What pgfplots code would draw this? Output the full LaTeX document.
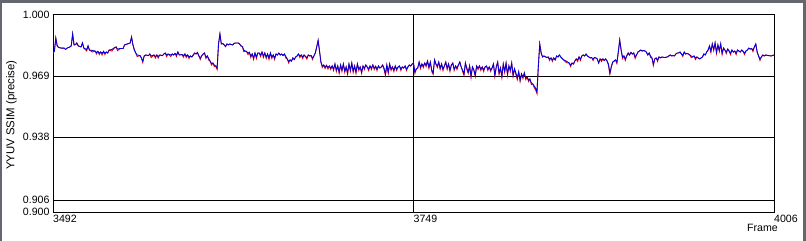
\documentclass[border=0pt]{standalone}
\usepackage{fontspec}
\setmainfont{Liberation Sans}
\usepackage{pgfplots}
\usepackage{pgfplotstable}
\pgfplotsset{compat=1.18}
\definecolor{sblue}{RGB}{0,0,230}
\definecolor{sred}{RGB}{220,0,0}
\definecolor{wgray}{RGB}{100,104,110}
\pgfplotstableread{
f b r
3492 0.9807 0.9807
3493 0.9817 0.9817
3494 0.9883 0.9883
3495 0.9843 0.9843
3496 0.9835 0.9835
3498 0.9832 0.9832
3500 0.9832 0.9832
3501 0.9825 0.9825
3502 0.9832 0.9832
3504 0.9838 0.9838
3505 0.9843 0.9843
3506 0.9904 0.9904
3507 0.9848 0.9848
3508 0.9850 0.9850
3509 0.9858 0.9858
3510 0.9843 0.9843
3512 0.9838 0.9838
3513 0.9858 0.9858
3514 0.9832 0.9832
3516 0.9825 0.9817
3517 0.9843 0.9843
3518 0.9822 0.9822
3520 0.9820 0.9812
3522 0.9817 0.9817
3523 0.9810 0.9802
3524 0.9815 0.9815
3525 0.9807 0.9799
3526 0.9812 0.9812
3527 0.9805 0.9797
3528 0.9815 0.9815
3529 0.9807 0.9799
3530 0.9812 0.9812
3531 0.9807 0.9807
3532 0.9822 0.9822
3534 0.9825 0.9817
3536 0.9835 0.9835
3537 0.9838 0.9838
3538 0.9827 0.9819
3540 0.9830 0.9830
3542 0.9830 0.9830
3543 0.9848 0.9848
3545 0.9853 0.9853
3547 0.9858 0.9858
3548 0.9888 0.9888
3549 0.9848 0.9848
3550 0.9822 0.9822
3551 0.9807 0.9807
3552 0.9797 0.9789
3554 0.9794 0.9794
3555 0.9782 0.9782
3556 0.9766 0.9758
3557 0.9792 0.9792
3558 0.9797 0.9797
3560 0.9794 0.9794
3561 0.9802 0.9802
3562 0.9792 0.9784
3564 0.9797 0.9797
3565 0.9789 0.9781
3566 0.9797 0.9797
3567 0.9789 0.9781
3568 0.9797 0.9797
3570 0.9794 0.9794
3571 0.9802 0.9802
3572 0.9807 0.9807
3573 0.9797 0.9789
3574 0.9802 0.9802
3576 0.9797 0.9789
3577 0.9802 0.9802
3578 0.9797 0.9797
3579 0.9805 0.9805
3580 0.9797 0.9789
3581 0.9812 0.9812
3582 0.9797 0.9797
3584 0.9799 0.9799
3585 0.9794 0.9786
3586 0.9802 0.9802
3587 0.9792 0.9784
3588 0.9797 0.9797
3589 0.9787 0.9779
3590 0.9792 0.9792
3591 0.9787 0.9787
3592 0.9797 0.9797
3593 0.9807 0.9807
3594 0.9802 0.9802
3595 0.9810 0.9810
3596 0.9792 0.9792
3597 0.9782 0.9774
3598 0.9792 0.9792
3599 0.9802 0.9802
3600 0.9807 0.9807
3601 0.9787 0.9779
3602 0.9792 0.9792
3603 0.9779 0.9771
3604 0.9766 0.9766
3605 0.9754 0.9746
3606 0.9756 0.9756
3607 0.9746 0.9738
3608 0.9741 0.9741
3609 0.9731 0.9723
3610 0.9853 0.9853
3611 0.9904 0.9904
3612 0.9853 0.9853
3613 0.9855 0.9855
3614 0.9848 0.9848
3615 0.9840 0.9840
3616 0.9853 0.9853
3617 0.9848 0.9848
3618 0.9853 0.9853
3620 0.9848 0.9848
3621 0.9855 0.9855
3622 0.9858 0.9858
3624 0.9858 0.9858
3625 0.9853 0.9853
3626 0.9843 0.9843
3627 0.9840 0.9840
3628 0.9822 0.9814
3629 0.9817 0.9817
3630 0.9815 0.9815
3631 0.9807 0.9799
3632 0.9810 0.9810
3633 0.9792 0.9784
3634 0.9802 0.9802
3635 0.9782 0.9774
3636 0.9807 0.9807
3637 0.9787 0.9779
3638 0.9807 0.9807
3639 0.9807 0.9807
3640 0.9797 0.9789
3641 0.9812 0.9812
3642 0.9792 0.9784
3643 0.9807 0.9807
3644 0.9787 0.9779
3645 0.9802 0.9802
3646 0.9782 0.9774
3647 0.9807 0.9807
3648 0.9787 0.9779
3649 0.9797 0.9797
3650 0.9782 0.9774
3651 0.9802 0.9802
3652 0.9797 0.9797
3653 0.9807 0.9807
3654 0.9797 0.9797
3655 0.9802 0.9802
3656 0.9794 0.9794
3657 0.9802 0.9802
3658 0.9789 0.9781
3659 0.9777 0.9777
3660 0.9764 0.9756
3661 0.9772 0.9772
3662 0.9766 0.9766
3663 0.9782 0.9782
3664 0.9774 0.9774
3665 0.9787 0.9787
3666 0.9792 0.9792
3667 0.9802 0.9802
3668 0.9792 0.9784
3669 0.9797 0.9797
3670 0.9787 0.9779
3671 0.9797 0.9797
3672 0.9789 0.9789
3673 0.9784 0.9776
3674 0.9797 0.9797
3675 0.9792 0.9792
3676 0.9794 0.9794
3677 0.9782 0.9774
3678 0.9792 0.9792
3679 0.9807 0.9807
3680 0.9838 0.9838
3681 0.9871 0.9871
3682 0.9817 0.9817
3683 0.9761 0.9761
3684 0.9741 0.9733
3685 0.9746 0.9746
3686 0.9736 0.9728
3687 0.9744 0.9744
3688 0.9734 0.9726
3689 0.9741 0.9741
3690 0.9731 0.9723
3691 0.9741 0.9741
3692 0.9726 0.9718
3693 0.9751 0.9751
3694 0.9721 0.9713
3695 0.9741 0.9741
3696 0.9711 0.9703
3697 0.9746 0.9746
3698 0.9721 0.9713
3699 0.9751 0.9751
3700 0.9716 0.9708
3701 0.9736 0.9736
3702 0.9706 0.9698
3703 0.9751 0.9751
3704 0.9721 0.9713
3705 0.9756 0.9756
3706 0.9716 0.9708
3707 0.9741 0.9741
3708 0.9711 0.9703
3709 0.9751 0.9751
3710 0.9726 0.9718
3711 0.9736 0.9736
3712 0.9711 0.9703
3713 0.9741 0.9741
3714 0.9731 0.9723
3715 0.9746 0.9746
3716 0.9736 0.9736
3717 0.9726 0.9718
3718 0.9741 0.9741
3719 0.9731 0.9723
3720 0.9746 0.9746
3721 0.9731 0.9723
3722 0.9739 0.9739
3723 0.9726 0.9718
3724 0.9741 0.9741
3725 0.9731 0.9731
3726 0.9736 0.9736
3727 0.9746 0.9746
3728 0.9731 0.9723
3729 0.9701 0.9693
3730 0.9746 0.9746
3731 0.9711 0.9703
3732 0.9751 0.9751
3733 0.9726 0.9718
3734 0.9736 0.9736
3735 0.9721 0.9713
3736 0.9741 0.9741
3737 0.9726 0.9718
3738 0.9736 0.9736
3739 0.9741 0.9741
3740 0.9726 0.9718
3741 0.9736 0.9736
3742 0.9731 0.9731
3743 0.9741 0.9741
3744 0.9726 0.9718
3745 0.9736 0.9736
3746 0.9746 0.9746
3747 0.9741 0.9741
3748 0.9751 0.9751
3749 0.9756 0.9756
3750 0.9711 0.9703
3751 0.9726 0.9726
3752 0.9731 0.9731
3753 0.9761 0.9761
3754 0.9736 0.9728
3755 0.9751 0.9751
3756 0.9741 0.9733
3757 0.9756 0.9756
3758 0.9746 0.9738
3759 0.9766 0.9766
3760 0.9736 0.9728
3761 0.9761 0.9761
3762 0.9721 0.9713
3763 0.9706 0.9698
3764 0.9772 0.9772
3765 0.9751 0.9751
3766 0.9741 0.9733
3767 0.9761 0.9761
3768 0.9731 0.9723
3769 0.9751 0.9751
3770 0.9726 0.9718
3771 0.9741 0.9741
3772 0.9761 0.9761
3773 0.9731 0.9723
3774 0.9751 0.9751
3775 0.9721 0.9713
3776 0.9746 0.9746
3777 0.9756 0.9756
3778 0.9726 0.9718
3779 0.9741 0.9741
3780 0.9731 0.9723
3781 0.9746 0.9746
3782 0.9761 0.9761
3783 0.9736 0.9736
3784 0.9721 0.9713
3785 0.9701 0.9693
3786 0.9756 0.9756
3787 0.9731 0.9723
3788 0.9711 0.9703
3789 0.9741 0.9741
3790 0.9690 0.9682
3791 0.9736 0.9736
3792 0.9721 0.9721
3793 0.9695 0.9687
3794 0.9741 0.9741
3795 0.9731 0.9723
3796 0.9741 0.9741
3797 0.9726 0.9718
3798 0.9736 0.9736
3799 0.9721 0.9713
3800 0.9736 0.9736
3801 0.9741 0.9741
3802 0.9726 0.9718
3803 0.9736 0.9736
3804 0.9721 0.9713
3805 0.9731 0.9731
3806 0.9751 0.9751
3807 0.9695 0.9687
3808 0.9736 0.9736
3809 0.9761 0.9761
3810 0.9706 0.9698
3811 0.9731 0.9731
3812 0.9690 0.9682
3813 0.9751 0.9751
3814 0.9716 0.9708
3815 0.9756 0.9756
3816 0.9701 0.9693
3817 0.9741 0.9741
3818 0.9721 0.9713
3819 0.9756 0.9756
3820 0.9695 0.9687
3821 0.9726 0.9726
3822 0.9706 0.9698
3823 0.9680 0.9672
3824 0.9711 0.9711
3825 0.9670 0.9662
3826 0.9701 0.9701
3827 0.9685 0.9677
3828 0.9706 0.9706
3829 0.9680 0.9672
3830 0.9685 0.9685
3831 0.9670 0.9662
3832 0.9675 0.9675
3833 0.9655 0.9647
3834 0.9650 0.9650
3835 0.9640 0.9632
3836 0.9629 0.9621
3837 0.9609 0.9601
3838 0.9741 0.9741
3839 0.9853 0.9853
3840 0.9807 0.9807
3841 0.9787 0.9787
3842 0.9792 0.9792
3844 0.9784 0.9784
3845 0.9787 0.9787
3846 0.9777 0.9769
3847 0.9782 0.9782
3848 0.9772 0.9764
3849 0.9782 0.9782
3850 0.9772 0.9772
3851 0.9792 0.9792
3852 0.9787 0.9787
3853 0.9797 0.9797
3854 0.9787 0.9787
3856 0.9772 0.9772
3858 0.9766 0.9758
3860 0.9756 0.9756
3861 0.9746 0.9738
3862 0.9756 0.9756
3863 0.9751 0.9751
3864 0.9766 0.9766
3865 0.9777 0.9777
3866 0.9772 0.9764
3867 0.9787 0.9787
3868 0.9777 0.9769
3869 0.9792 0.9792
3870 0.9797 0.9797
3871 0.9792 0.9792
3872 0.9802 0.9802
3873 0.9792 0.9792
3874 0.9787 0.9787
3875 0.9782 0.9782
3876 0.9784 0.9784
3877 0.9777 0.9769
3878 0.9784 0.9784
3879 0.9782 0.9782
3880 0.9777 0.9777
3881 0.9756 0.9756
3882 0.9777 0.9777
3883 0.9772 0.9764
3884 0.9777 0.9777
3885 0.9769 0.9769
3886 0.9777 0.9777
3887 0.9766 0.9766
3888 0.9751 0.9743
3889 0.9706 0.9698
3890 0.9736 0.9736
3891 0.9761 0.9761
3892 0.9766 0.9766
3893 0.9772 0.9772
3894 0.9761 0.9753
3895 0.9812 0.9812
3896 0.9873 0.9873
3897 0.9822 0.9822
3898 0.9787 0.9779
3899 0.9792 0.9792
3900 0.9777 0.9769
3901 0.9792 0.9792
3902 0.9807 0.9807
3903 0.9797 0.9797
3904 0.9810 0.9810
3905 0.9802 0.9802
3906 0.9807 0.9807
3907 0.9787 0.9779
3908 0.9797 0.9797
3909 0.9812 0.9812
3910 0.9817 0.9817
3911 0.9822 0.9822
3912 0.9817 0.9817
3913 0.9820 0.9820
3914 0.9817 0.9817
3915 0.9812 0.9812
3916 0.9797 0.9797
3917 0.9807 0.9807
3918 0.9792 0.9784
3919 0.9782 0.9782
3920 0.9751 0.9743
3921 0.9777 0.9777
3922 0.9782 0.9782
3923 0.9772 0.9764
3924 0.9787 0.9787
3925 0.9782 0.9782
3926 0.9787 0.9787
3928 0.9784 0.9784
3930 0.9787 0.9787
3931 0.9792 0.9792
3932 0.9797 0.9797
3933 0.9792 0.9792
3934 0.9794 0.9794
3935 0.9792 0.9792
3936 0.9802 0.9802
3937 0.9807 0.9807
3938 0.9807 0.9807
3939 0.9812 0.9812
3940 0.9802 0.9802
3941 0.9797 0.9789
3942 0.9812 0.9812
3943 0.9802 0.9802
3944 0.9805 0.9805
3945 0.9802 0.9802
3946 0.9797 0.9797
3947 0.9792 0.9784
3948 0.9787 0.9787
3949 0.9792 0.9792
3950 0.9782 0.9774
3951 0.9787 0.9787
3952 0.9782 0.9782
3953 0.9777 0.9777
3954 0.9782 0.9782
3955 0.9787 0.9787
3956 0.9802 0.9802
3957 0.9797 0.9797
3958 0.9812 0.9812
3959 0.9822 0.9822
3960 0.9843 0.9843
3961 0.9817 0.9809
3962 0.9853 0.9853
3963 0.9827 0.9819
3964 0.9858 0.9858
3965 0.9812 0.9804
3966 0.9848 0.9848
3967 0.9822 0.9814
3968 0.9853 0.9853
3969 0.9807 0.9799
3970 0.9832 0.9832
3971 0.9822 0.9822
3972 0.9812 0.9804
3973 0.9827 0.9827
3974 0.9817 0.9817
3975 0.9807 0.9799
3976 0.9822 0.9822
3977 0.9812 0.9812
3978 0.9817 0.9817
3979 0.9807 0.9799
3980 0.9822 0.9822
3981 0.9817 0.9817
3982 0.9812 0.9812
3983 0.9822 0.9822
3984 0.9815 0.9815
3985 0.9807 0.9799
3986 0.9817 0.9817
3987 0.9822 0.9822
3988 0.9832 0.9832
3989 0.9827 0.9827
3990 0.9830 0.9830
3991 0.9822 0.9814
3992 0.9838 0.9838
3993 0.9853 0.9853
3994 0.9812 0.9812
3995 0.9792 0.9792
3996 0.9777 0.9769
3997 0.9787 0.9787
3998 0.9797 0.9797
3999 0.9792 0.9792
4000 0.9797 0.9797
4002 0.9794 0.9794
4004 0.9792 0.9792
4006 0.9797 0.9797
}\ssim
\begin{document}
\begin{tikzpicture}[font=\fontsize{10.6bp}{12bp}\selectfont]
\path[use as bounding box, fill=white] (0,0) rectangle (806bp,241bp);
\fill[wgray] (0,238bp) rectangle (806bp,241bp);
\fill[wgray] (0,0) rectangle (2bp,241bp);
\fill[wgray] (803bp,0) rectangle (806bp,241bp);
\begin{axis}[
  at={(53bp,29bp)}, anchor=south west,
  scale only axis, width=721bp, height=197bp,
  xmin=3492, xmax=4006, ymin=0.9, ymax=1.0,
  xtick={3492,3749,4006}, xticklabels={3492,3749,4006},
  ytick={0.906,0.938,0.969,1.0}, yticklabels={0.906,0.938,0.969,1.000},
  extra y ticks={0.9}, extra y tick labels={0.900},
  extra y tick style={grid=none, tick label style={anchor=south east}},
  xmajorgrids, ymajorgrids,
  grid style={black, line width=1bp},
  axis line style={black, line width=1bp},
  major tick length=0pt,
  xticklabel style={anchor=north west, inner xsep=0pt},
  yticklabel style={anchor=east},
  /pgf/number format/assume math mode=true,
  xlabel={Frame}, ylabel={YYUV SSIM (precise)},
  every axis x label/.style={at={(axis description cs:1,0)}, anchor=north east, xshift=7.3bp, yshift=-8.4bp},
  every axis y label/.style={at={(axis description cs:-0.0534,0.492)}, rotate=90, anchor=base, font=\fontsize{11.4bp}{13bp}\selectfont},
]
\addplot[sred, line width=0.85bp] table[x=f,y=r]{\ssim};
\addplot[sblue, line width=0.85bp] table[x=f,y=b]{\ssim};
\end{axis}
\end{tikzpicture}
\end{document}
